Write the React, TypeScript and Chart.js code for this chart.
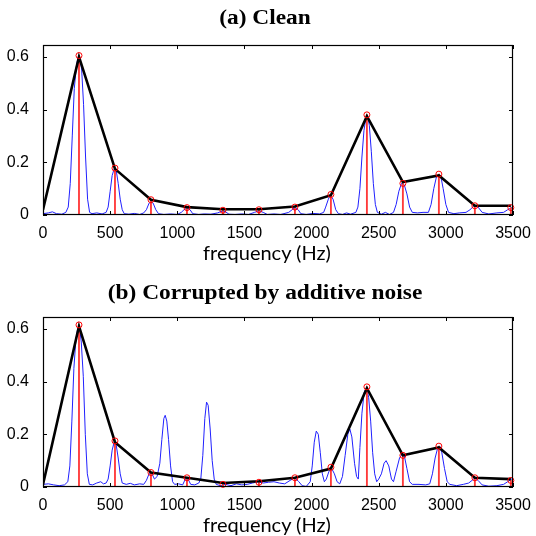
import React, { useEffect, useRef } from "react";
import { Chart, registerables } from "chart.js";

Chart.register(...registerables);

// ---------- data ----------
const harmonicsHz = [268, 536, 804, 1072, 1340, 1608, 1876, 2144, 2412, 2680, 2948, 3216, 3484];

const cleanPeaks = [0.605, 0.178, 0.058, 0.028, 0.018, 0.02, 0.03, 0.078, 0.38, 0.12, 0.155, 0.035, 0.028];
const noisyPeaks = [0.615, 0.175, 0.055, 0.035, 0.01, 0.018, 0.035, 0.075, 0.38, 0.12, 0.155, 0.035, 0.025];

const envelopeStartHz = 0;
const cleanEnvelopeStart = 0.02;
const cleanEnvelope = [0.6, 0.175, 0.058, 0.03, 0.022, 0.022, 0.032, 0.075, 0.375, 0.125, 0.15, 0.035, 0.035];
const noisyEnvelopeStart = 0.01;
const noisyEnvelope = [0.61, 0.17, 0.055, 0.035, 0.015, 0.022, 0.035, 0.07, 0.375, 0.12, 0.15, 0.035, 0.03];

const cleanSpectrum: [number, number][] = [
  [0, 0.005], [40, 0.008], [70, 0.012], [100, 0.005], [140, 0.003], [170, 0.01],
  [188, 0.03], [203, 0.12], [218, 0.3], [233, 0.48], [250, 0.57], [262, 0.6], [275, 0.598], [288, 0.55], [302, 0.42], [317, 0.22], [332, 0.06], [347, 0.01],
  [365, 0.005], [400, 0.008], [440, 0.004], [470, 0.01],
  [485, 0.03], [500, 0.09], [515, 0.15], [530, 0.175], [545, 0.17], [560, 0.12], [575, 0.06], [590, 0.02], [605, 0.005],
  [640, 0.003], [680, 0.006], [720, 0.002], [750, 0.008],
  [770, 0.02], [790, 0.045], [805, 0.05], [820, 0.045], [840, 0.02], [860, 0.005],
  [900, 0.002], [950, 0.004], [1000, 0.002], [1030, 0.01],
  [1050, 0.02], [1072, 0.026], [1095, 0.02], [1115, 0.005],
  [1160, 0.002], [1200, 0.004], [1250, 0.003], [1300, 0.008],
  [1320, 0.012], [1340, 0.015], [1360, 0.012], [1385, 0.003],
  [1430, 0.002], [1480, 0.004], [1530, 0.002], [1575, 0.01], [1608, 0.016], [1640, 0.01], [1670, 0.002],
  [1720, 0.004], [1770, 0.002], [1830, 0.01],
  [1855, 0.02], [1876, 0.03], [1900, 0.02], [1920, 0.005],
  [1960, 0.002], [2010, 0.006], [2060, 0.004], [2090, 0.01],
  [2105, 0.03], [2125, 0.06], [2140, 0.075], [2160, 0.06], [2180, 0.02], [2200, 0.005],
  [2230, 0.002], [2260, 0.008], [2290, 0.003], [2330, 0.01],
  [2345, 0.03], [2360, 0.1], [2375, 0.22], [2390, 0.32], [2405, 0.37], [2418, 0.375], [2430, 0.34], [2445, 0.24], [2460, 0.12], [2475, 0.04], [2490, 0.01],
  [2520, 0.003], [2550, 0.01], [2580, 0.002], [2610, 0.01],
  [2630, 0.04], [2650, 0.09], [2670, 0.12], [2690, 0.115], [2710, 0.08], [2730, 0.03], [2750, 0.01],
  [2790, 0.008], [2830, 0.01], [2870, 0.01],
  [2890, 0.04], [2910, 0.1], [2930, 0.145], [2950, 0.155], [2965, 0.14], [2980, 0.1], [3000, 0.04], [3020, 0.01],
  [3060, 0.005], [3100, 0.008], [3150, 0.01],
  [3180, 0.02], [3210, 0.035], [3240, 0.03], [3270, 0.01],
  [3320, 0.004], [3380, 0.008], [3430, 0.01], [3460, 0.02], [3500, 0.03],
];

const noisySpectrum: [number, number][] = [
  [0, 0.01], [40, 0.012], [80, 0.008], [120, 0.005], [160, 0.008], [185, 0.02],
  [200, 0.08], [215, 0.25], [230, 0.45], [245, 0.56], [258, 0.6], [272, 0.605], [285, 0.55], [300, 0.42], [315, 0.2], [330, 0.05], [345, 0.01],
  [370, 0.008], [400, 0.015], [430, 0.02], [450, 0.012], [470, 0.015], [485, 0.03],
  [500, 0.08], [515, 0.14], [530, 0.17], [545, 0.16], [560, 0.11], [575, 0.05], [590, 0.015],
  [620, 0.01], [650, 0.014], [680, 0.008], [720, 0.012], [750, 0.01], [770, 0.025],
  [790, 0.05], [810, 0.052], [830, 0.03], [850, 0.04],
  [870, 0.09], [885, 0.18], [900, 0.26], [910, 0.272], [922, 0.25], [935, 0.18], [950, 0.08], [965, 0.02], [980, 0.01],
  [1010, 0.012], [1040, 0.008],
  [1060, 0.03], [1080, 0.03], [1100, 0.01], [1130, 0.008], [1160, 0.015],
  [1175, 0.03], [1190, 0.12], [1205, 0.26], [1218, 0.322], [1230, 0.31], [1245, 0.22], [1260, 0.1], [1275, 0.03], [1290, 0.01],
  [1320, 0.005], [1360, 0.01], [1400, 0.005], [1440, 0.012], [1480, 0.008], [1520, 0.01],
  [1560, 0.015], [1600, 0.02], [1640, 0.015], [1680, 0.018], [1720, 0.02], [1760, 0.015], [1800, 0.012],
  [1840, 0.025], [1876, 0.035], [1905, 0.02], [1930, 0.005], [1960, 0.002],
  [1990, 0.02], [2005, 0.08], [2020, 0.17], [2035, 0.212], [2050, 0.2], [2065, 0.13], [2080, 0.05], [2095, 0.02], [2110, 0.03],
  [2130, 0.06], [2150, 0.07], [2170, 0.05], [2190, 0.02], [2210, 0.012],
  [2230, 0.04], [2250, 0.12], [2270, 0.2], [2285, 0.22], [2300, 0.19], [2320, 0.09], [2335, 0.04], [2348, 0.03],
  [2360, 0.15], [2375, 0.28], [2392, 0.36], [2410, 0.378], [2425, 0.34], [2440, 0.25], [2455, 0.13], [2470, 0.05], [2485, 0.02], [2500, 0.03],
  [2520, 0.05], [2540, 0.09], [2555, 0.1], [2575, 0.08], [2595, 0.03], [2610, 0.02],
  [2630, 0.06], [2655, 0.11], [2675, 0.125], [2690, 0.12], [2710, 0.07], [2730, 0.02], [2750, 0.01],
  [2800, 0.01], [2850, 0.008], [2880, 0.012],
  [2900, 0.05], [2920, 0.11], [2940, 0.15], [2955, 0.155], [2970, 0.13], [2990, 0.07], [3010, 0.02], [3030, 0.01],
  [3080, 0.005], [3130, 0.01], [3170, 0.015],
  [3195, 0.025], [3215, 0.035], [3240, 0.025], [3270, 0.008],
  [3320, 0.003], [3380, 0.005], [3430, 0.01], [3460, 0.02], [3490, 0.03], [3500, 0.025],
];

const xTickStep = 500;
const xMin = 0;
const xMax = 3500;
const yTickStep = 0.2;
const yMin = 0;
const yMax = 0.645;

const titleA = "(a) Clean";
const titleB = "(b) Corrupted by additive noise";
const xLabel = "frequency (Hz)";

// ---------- chart ----------
const framePlugin = {
  id: "matlabFrame",
  afterDatasetsDraw(chart: any) {
    const { ctx, chartArea } = chart;
    const { left, right, top, bottom } = chartArea;
    const xs = chart.scales.x;
    const ys = chart.scales.y;
    const tl = 4;
    ctx.save();
    ctx.strokeStyle = "#000";
    ctx.lineWidth = 1;
    ctx.beginPath();
    xs.ticks.forEach((t: any) => {
      const px = Math.round(xs.getPixelForValue(t.value)) + 0.5;
      ctx.moveTo(px, bottom);
      ctx.lineTo(px, bottom - tl);
      ctx.moveTo(px, top);
      ctx.lineTo(px, top + tl);
    });
    ys.ticks.forEach((t: any) => {
      const py = Math.round(ys.getPixelForValue(t.value)) + 0.5;
      ctx.moveTo(left, py);
      ctx.lineTo(left + tl, py);
      ctx.moveTo(right, py);
      ctx.lineTo(right - tl, py);
    });
    ctx.stroke();
    ctx.lineWidth = 1.2;
    ctx.strokeRect(left + 0.5, top + 0.5, right - left - 1, bottom - top - 1);
    ctx.restore();
  },
};

function buildConfig(
  spectrum: [number, number][],
  peaks: number[],
  envStart: number,
  envelope: number[],
  axisHeight: number
): any {
  const fontTicks = { family: '"Liberation Sans", Arial, sans-serif', size: 16 };
  return {
    type: "line",
    data: {
      datasets: [
        {
          type: "line",
          label: "spectrum",
          data: spectrum.map(([x, y]) => ({ x, y })),
          borderColor: "#2020ff",
          borderWidth: 1,
          pointRadius: 0,
          tension: 0,
          order: 4,
        },
        {
          type: "bar",
          label: "harmonics",
          data: harmonicsHz.map((x, i) => ({ x, y: peaks[i] })),
          backgroundColor: "#ff3a3a",
          barThickness: 1.2,
          order: 3,
        },
        {
          type: "line",
          label: "envelope",
          data: [{ x: envelopeStartHz, y: envStart }, ...harmonicsHz.map((x, i) => ({ x, y: envelope[i] }))],
          borderColor: "#000",
          borderWidth: 2.6,
          pointRadius: 0,
          tension: 0,
          order: 2,
        },
        {
          type: "line",
          label: "peaks",
          data: harmonicsHz.map((x, i) => ({ x, y: peaks[i] })),
          showLine: false,
          pointRadius: 3,
          pointBorderColor: "#ff0000",
          pointBackgroundColor: "rgba(0,0,0,0)",
          pointBorderWidth: 1,
          order: 1,
          clip: false,
        },
      ],
    },
    options: {
      responsive: false,
      animation: false,
      events: [],
      layout: { padding: { top: 45, right: 23, left: 0, bottom: 0 } },
      plugins: {
        legend: { display: false },
        tooltip: { enabled: false },
        title: { display: false },
      },
      scales: {
        x: {
          type: "linear",
          min: xMin,
          max: xMax,
          offset: false,
          grid: { display: false },
          border: { display: false },
          ticks: {
            stepSize: xTickStep,
            includeBounds: false,
            autoSkip: false,
            maxRotation: 0,
            color: "#000",
            font: fontTicks,
            padding: 1,
            callback: (v: any) => String(v),
          },
          afterFit: (s: any) => {
            s.height = axisHeight;
          },
        },
        y: {
          type: "linear",
          min: yMin,
          max: yMax,
          grid: { display: false },
          border: { display: false },
          ticks: {
            stepSize: yTickStep,
            includeBounds: false,
            color: "#000",
            font: fontTicks,
            padding: 6,
            callback: (v: any) => (Math.abs(v) < 1e-9 ? "0" : Number(v).toFixed(1)),
          },
          afterFit: (s: any) => {
            s.width = 43;
          },
        },
      },
    },
    plugins: [framePlugin],
  };
}

function Panel(props: {
  top: number;
  height: number;
  spectrum: [number, number][];
  peaks: number[];
  envStart: number;
  envelope: number[];
}) {
  const ref = useRef<HTMLCanvasElement | null>(null);
  useEffect(() => {
    if (!ref.current) return;
    const chart = new Chart(
      ref.current,
      buildConfig(props.spectrum, props.peaks, props.envStart, props.envelope, props.height - 215)
    );
    return () => chart.destroy();
  }, []);
  return (
    <canvas
      ref={ref}
      width={536}
      height={props.height}
      style={{ position: "absolute", left: 0, top: props.top, width: 536, height: props.height }}
    />
  );
}

const titleStyle = (top: number): React.CSSProperties => ({
  position: "absolute",
  left: 0,
  width: 530,
  top,
  height: 22,
  lineHeight: "22px",
  textAlign: "center",
  fontFamily: '"Liberation Serif", "Times New Roman", serif',
  fontWeight: "bold",
  fontSize: 20,
  color: "#000",
  transform: "scaleX(1.17)",
  whiteSpace: "nowrap",
});

const labelStyle = (top: number): React.CSSProperties => ({
  position: "absolute",
  left: 0,
  width: 534,
  top,
  height: 24,
  lineHeight: "24px",
  textAlign: "center",
  fontFamily: 'Lato, "Open Sans", sans-serif',
  fontSize: 20,
  color: "#000",
  whiteSpace: "nowrap",
});

export default function App() {
  return (
    <div style={{ position: "fixed", left: 0, top: 0, width: 536, height: 536, background: "#fff", overflow: "hidden" }}>
      <Panel top={0} height={270} spectrum={cleanSpectrum} peaks={cleanPeaks} envStart={cleanEnvelopeStart} envelope={cleanEnvelope} />
      <Panel top={272} height={264} spectrum={noisySpectrum} peaks={noisyPeaks} envStart={noisyEnvelopeStart} envelope={noisyEnvelope} />
      <div style={titleStyle(6)}>{titleA}</div>
      <div style={labelStyle(240)}>{xLabel}</div>
      <div style={titleStyle(281)}>{titleB}</div>
      <div style={labelStyle(512)}>{xLabel}</div>
    </div>
  );
}
